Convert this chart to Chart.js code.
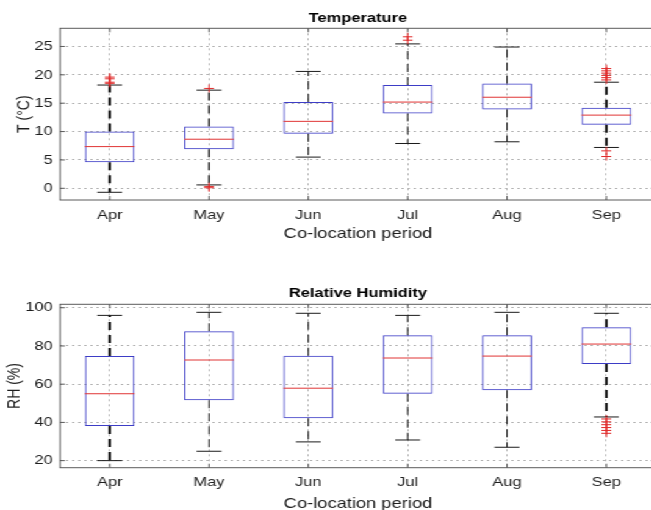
<!DOCTYPE html>
<html>
<head>
<meta charset="utf-8">
<script src="https://cdn.jsdelivr.net/npm/chart.js@4.4.1/dist/chart.umd.min.js"></script>
<style>
  html, body { margin: 0; padding: 0; background: #fff; overflow: hidden; }
  /* figure is drawn narrow and stretched sideways */
  #wrap { width: 545px; transform: scaleX(1.22); transform-origin: 0 0; }
  canvas { display: block; }
</style>
</head>
<body>
<div id="wrap">
  <canvas id="tempChart" width="545" height="255"></canvas>
  <canvas id="rhChart" width="545" height="265"></canvas>
</div>
<script>
const months = ['Apr', 'May', 'Jun', 'Jul', 'Aug', 'Sep'];

// Temperature (°C) per month: whisker ends, quartiles, median
const tempLow    = [-0.7, 0.6, 5.5, 7.9, 8.2, 7.2];
const tempQ1     = [4.6, 6.9, 9.6, 13.2, 13.9, 11.2];
const tempMedian = [7.35, 8.65, 11.8, 15.2, 16.05, 12.9];
const tempQ3     = [10.0, 10.9, 15.2, 18.2, 18.45, 14.2];
const tempHigh   = [18.2, 17.3, 20.6, 25.45, 24.9, 18.7];
const tempOutliers = [
  [19.6, 19.3, 18.7, 18.5],
  [17.6, 0.3, 0.1],
  [],
  [26.7, 26.1],
  [],
  [21.1, 20.7, 20.3, 19.9, 19.5, 19.1, 6.6, 5.6]
];
const tempTicks = [0, 5, 10, 15, 20, 25];

// Relative humidity (%) per month
const rhLow    = [20.0, 24.9, 29.8, 30.8, 27.0, 42.85];
const rhQ1     = [38.1, 51.6, 42.2, 55.0, 56.8, 70.6];
const rhMedian = [55.0, 72.65, 57.9, 73.7, 74.7, 81.0];
const rhQ3     = [74.7, 87.7, 74.9, 85.6, 85.6, 89.75];
const rhHigh   = [96.0, 97.6, 97.1, 96.0, 97.6, 97.1];
const rhOutliers = [[], [], [], [], [], [41.8, 40.3, 38.8, 37.3, 35.8, 34.3]];
const rhTicks = [20, 40, 60, 80, 100];

Chart.defaults.font.family = '"Liberation Sans", Arial, sans-serif';
Chart.defaults.color = '#1e1e1e';

// whiskers, caps, medians and the axes box are drawn here
function boxPlotLines(stats) {
  return {
    id: 'boxPlotLines',
    beforeDatasetsDraw(chart) {
      const {ctx, scales: {x, y}} = chart;
      const bars = chart.getDatasetMeta(0).data;
      ctx.save();
      stats.low.forEach((low, i) => {
        const cx = x.getPixelForValue(i);
        const capHalf = bars[i].width / 4;
        ctx.strokeStyle = '#1a1a1a';
        ctx.lineWidth = stats.weight[i];
        ctx.setLineDash([8, 5]);
        ctx.beginPath();
        ctx.moveTo(cx, y.getPixelForValue(stats.q3[i]));
        ctx.lineTo(cx, y.getPixelForValue(stats.high[i]));
        ctx.moveTo(cx, y.getPixelForValue(stats.q1[i]));
        ctx.lineTo(cx, y.getPixelForValue(low));
        ctx.stroke();

        ctx.setLineDash([]);
        ctx.lineWidth = 1;
        ctx.beginPath();
        [low, stats.high[i]].forEach(v => {
          const py = y.getPixelForValue(v);
          ctx.moveTo(cx - capHalf, py);
          ctx.lineTo(cx + capHalf, py);
        });
        ctx.stroke();
      });
      ctx.restore();
    },
    afterDatasetsDraw(chart) {
      const {ctx, chartArea: a, scales: {x, y}} = chart;
      const bars = chart.getDatasetMeta(0).data;
      ctx.save();
      ctx.strokeStyle = '#e03434';
      ctx.lineWidth = 1;
      ctx.beginPath();
      stats.median.forEach((m, i) => {
        const py = y.getPixelForValue(m);
        ctx.moveTo(bars[i].x - bars[i].width / 2, py);
        ctx.lineTo(bars[i].x + bars[i].width / 2, py);
      });
      ctx.stroke();

      // box round the plot, ticks pointing inwards on every side
      ctx.strokeStyle = '#5a5a5a';
      ctx.strokeRect(a.left, a.top, a.right - a.left, a.bottom - a.top);
      ctx.beginPath();
      x.ticks.forEach((t, i) => {
        const px = x.getPixelForTick(i);
        ctx.moveTo(px, a.bottom); ctx.lineTo(px, a.bottom - 4);
        ctx.moveTo(px, a.top); ctx.lineTo(px, a.top + 4);
      });
      y.ticks.forEach(t => {
        const py = y.getPixelForValue(t.value);
        ctx.moveTo(a.left, py); ctx.lineTo(a.left + 4, py);
        ctx.moveTo(a.right, py); ctx.lineTo(a.right - 4, py);
      });
      ctx.stroke();
      ctx.restore();
    }
  };
}

function makeBoxChart(id, cfg) {
  const outlierPoints = cfg.outliers.flatMap((vals, i) => vals.map(v => ({x: months[i], y: v})));
  const gridStyle = { color: '#b4b4b4', lineWidth: 1, drawTicks: false };
  return new Chart(document.getElementById(id), {
    type: 'bar',
    data: {
      labels: months,
      datasets: [{
        data: months.map((m, i) => [cfg.q1[i], cfg.q3[i]]),
        backgroundColor: 'rgba(0,0,0,0)',
        borderColor: '#3d3dc6',
        borderWidth: 1,
        borderSkipped: false,
        barPercentage: 0.5,
        categoryPercentage: 1.0
      }, {
        type: 'line',
        data: outlierPoints,
        showLine: false,
        pointStyle: 'cross',
        pointRadius: 4,
        pointBorderWidth: 1,
        borderColor: '#e02828'
      }]
    },
    options: {
      responsive: false,
      animation: false,
      layout: { padding: { left: 0, right: 7.3, top: 0, bottom: 0 } },
      plugins: {
        legend: { display: false },
        tooltip: { enabled: false },
        title: {
          display: true,
          text: cfg.title,
          fullSize: false,
          color: '#000',
          font: { size: 13.5, weight: 'bold' },
          padding: cfg.titlePad
        }
      },
      scales: {
        x: {
          offset: true,
          grid: { ...gridStyle, offset: false },
          border: { display: false, dash: [2, 3] },
          ticks: { font: { size: 13.5 }, padding: cfg.xTickPad },
          title: {
            display: true,
            text: 'Co-location period',
            font: { size: 15 },
            padding: { top: 0, bottom: cfg.xTitlePad }
          },
          afterFit: s => { s.height = cfg.xHeight; }
        },
        y: {
          min: cfg.yMin,
          max: cfg.yMax,
          afterBuildTicks: s => { s.ticks = cfg.ticks.map(v => ({ value: v })); },
          grid: gridStyle,
          border: { display: false, dash: [2, 3] },
          ticks: { font: { size: 13.5 }, padding: 6 },
          title: {
            display: true,
            text: cfg.yLabel,
            font: { size: 14 },
            padding: { top: cfg.yTitlePad, bottom: 0 }
          },
          afterFit: s => { s.width = 49.2; }
        }
      }
    },
    plugins: [boxPlotLines({
      low: cfg.low, q1: cfg.q1, median: cfg.median, q3: cfg.q3, high: cfg.high, weight: cfg.weight
    })]
  });
}

const tempChart = makeBoxChart('tempChart', {
  title: 'Temperature', yLabel: 'T (°C)',
  low: tempLow, q1: tempQ1, median: tempMedian, q3: tempQ3, high: tempHigh,
  outliers: tempOutliers, ticks: tempTicks, yMin: -2.06, yMax: 28.2,
  weight: [2.2, 1.4, 1, 1, 1, 2.2],
  titlePad: { top: 9.9, bottom: 2.2 }, xHeight: 55, xTickPad: 7.5, xTitlePad: 11.7, yTitlePad: 11.7
});

const rhChart = makeBoxChart('rhChart', {
  title: 'Relative Humidity', yLabel: 'RH (%)',
  low: rhLow, q1: rhQ1, median: rhMedian, q3: rhQ3, high: rhHigh,
  outliers: rhOutliers, ticks: rhTicks, yMin: 16.3, yMax: 101.8,
  weight: [2.2, 1, 1, 1, 1, 2.2],
  titlePad: { top: 30.5, bottom: 2.6 }, xHeight: 52.3, xTickPad: 6.4, xTitlePad: 6.8, yTitlePad: 3.65
});
</script>
</body>
</html>
